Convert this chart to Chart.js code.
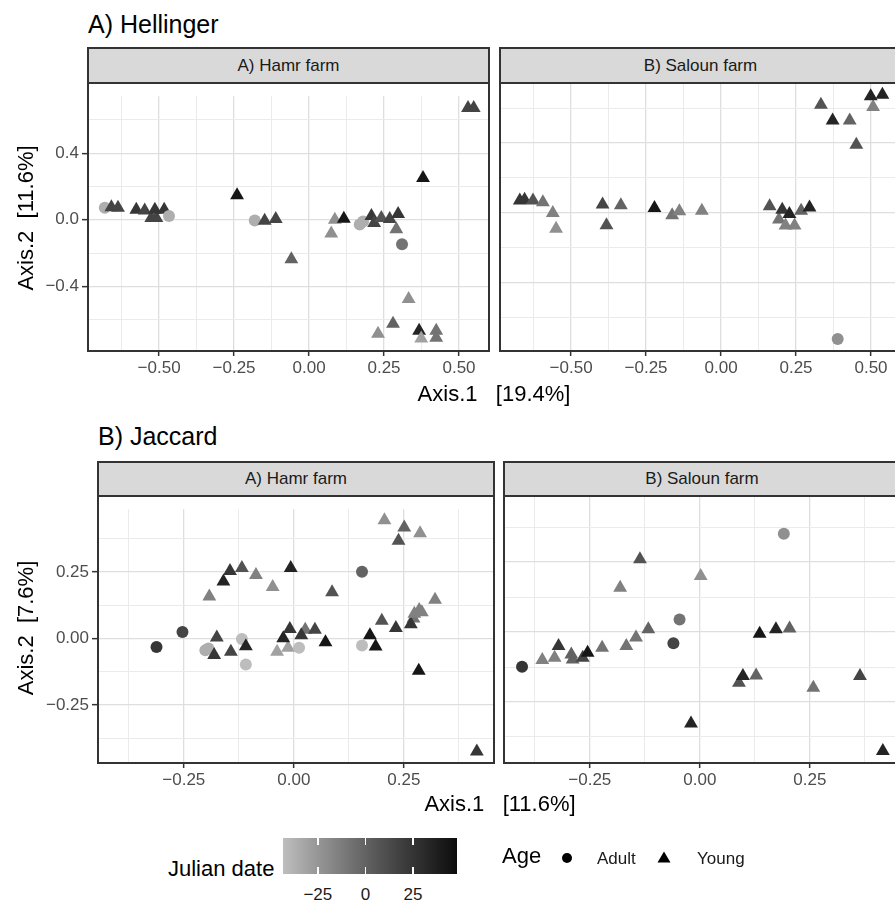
<!DOCTYPE html>
<html>
<head>
<meta charset="utf-8">
<script src="https://cdn.jsdelivr.net/npm/chart.js@4.4.1/dist/chart.umd.min.js"></script>
<style>
  body { margin: 0; background: #fff; overflow: hidden; }
  #page { position: relative; width: 895px; height: 902px; overflow: hidden; background: #fff;
          font-family: "Liberation Sans", Arial, sans-serif; color: #000; }
  #page canvas { position: absolute; }
  .txt { position: absolute; white-space: pre; }
  .strip { position: absolute; box-sizing: border-box; background: #d9d9d9; border: 2px solid #333;
           color: #1a1a1a; font-size: 17px; text-align: center; }
  .frame { position: absolute; box-sizing: border-box; border: 2px solid #333; pointer-events: none; }
</style>
</head>
<body>
<div id="page"></div>
<script>
// ---- data ----
// A) Hellinger, Hamr farm
const hellHamrX = [-0.681,-0.659,-0.637,-0.576,-0.548,-0.526,-0.509,-0.514,-0.483,-0.467,-0.240,-0.181,-0.148,-0.111,-0.059,0.074,0.086,0.116,0.169,0.180,0.208,0.217,0.241,0.269,0.297,0.291,0.310,0.380,0.530,0.549,0.332,0.280,0.230,0.367,0.374,0.424,0.424];
const hellHamrY = [0.072,0.076,0.072,0.060,0.056,0.010,0.010,0.060,0.060,0.023,0.147,-0.004,-0.006,0.004,-0.238,-0.082,0.000,0.006,-0.029,-0.010,0.023,-0.019,0.010,0.004,0.034,-0.057,-0.147,0.251,0.672,0.672,-0.476,-0.625,-0.686,-0.667,-0.714,-0.667,-0.709];
const hellHamrDate = [-36,16,16,24,16,16,16,24,24,-36,43,-36,16,16,0,-22,-22,43,-36,-36,24,16,8,16,24,-8,-8,43,16,16,-22,0,-22,34,-30,-8,-8];
const hellHamrAge = ['A','Y','Y','Y','Y','Y','Y','Y','Y','A','Y','A','Y','Y','Y','Y','Y','Y','A','A','Y','Y','Y','Y','Y','Y','A','Y','Y','Y','Y','Y','Y','Y','Y','Y','Y'];

// A) Hellinger, Saloun farm
const hellSalX = [-0.671,-0.655,-0.627,-0.594,-0.561,-0.550,-0.395,-0.334,-0.382,-0.222,-0.163,-0.139,-0.064,0.162,0.193,0.204,0.215,0.245,0.228,0.267,0.295,0.333,0.372,0.429,0.451,0.507,0.499,0.538,0.389];
const hellSalY = [0.072,0.076,0.072,0.061,0.000,-0.090,0.048,0.044,-0.070,0.029,-0.013,0.010,0.013,0.038,-0.038,0.019,-0.072,-0.072,-0.006,0.013,0.032,0.619,0.528,0.528,0.390,0.606,0.667,0.676,-0.720];
const hellSalDate = [24,24,8,-8,-15,-22,16,0,8,43,-8,-15,-15,8,-8,24,-15,-15,34,0,34,8,34,0,8,-15,34,34,-22];
const hellSalAge = ['Y','Y','Y','Y','Y','Y','Y','Y','Y','Y','Y','Y','Y','Y','Y','Y','Y','Y','Y','Y','Y','Y','Y','Y','Y','Y','Y','Y','A'];

// B) Jaccard, Hamr farm
const jacHamrX = [-0.312,-0.253,-0.201,-0.194,-0.175,-0.181,-0.143,-0.118,-0.109,-0.109,-0.192,-0.160,-0.145,-0.118,-0.086,-0.048,-0.007,0.087,0.155,-0.038,-0.013,0.012,-0.024,-0.009,0.026,0.017,0.048,0.072,0.155,0.173,0.186,0.200,0.232,0.272,0.266,0.274,0.285,0.291,0.321,0.284,0.416,0.206,0.251,0.287,0.238];
const jacHamrY = [-0.032,0.024,-0.044,-0.038,0.004,-0.062,-0.050,-0.002,-0.029,-0.098,0.158,0.214,0.254,0.265,0.239,0.194,0.265,0.174,0.251,-0.050,-0.035,-0.035,0.001,0.036,0.033,0.012,0.033,-0.014,-0.026,0.012,-0.030,0.067,0.039,0.075,0.054,0.093,0.107,0.099,0.146,-0.121,-0.425,0.444,0.417,0.396,0.367];
const jacHamrDate = [24,16,-36,-36,16,24,16,-43,34,-43,-15,34,24,8,-15,-22,34,8,0,-30,-30,-43,34,24,-8,24,16,43,-43,43,43,8,24,-8,24,-15,-15,-15,-15,43,24,-22,0,-22,8];
const jacHamrAge = ['A','A','A','A','Y','Y','Y','A','Y','A','Y','Y','Y','Y','Y','Y','Y','Y','A','Y','Y','A','Y','Y','Y','Y','Y','Y','A','Y','Y','Y','Y','Y','Y','Y','Y','Y','Y','Y','Y','Y','Y','Y','Y'];

// B) Jaccard, Saloun farm
const jacSalX = [-0.404,-0.358,-0.330,-0.321,-0.292,-0.289,-0.266,-0.255,-0.222,-0.167,-0.145,-0.117,-0.060,-0.046,-0.181,-0.136,0.002,0.191,0.136,0.173,0.204,0.089,0.098,0.128,0.258,0.364,-0.020,0.416];
const jacSalY = [-0.124,-0.100,-0.092,-0.050,-0.080,-0.098,-0.092,-0.074,-0.056,-0.050,-0.020,0.010,-0.040,0.045,0.158,0.260,0.200,0.351,-0.006,0.010,0.013,-0.181,-0.157,-0.155,-0.199,-0.157,-0.327,-0.425];
const jacSalDate = [24,-15,-15,24,0,0,16,43,-8,-8,-8,0,16,-8,-15,8,-22,-22,43,34,0,8,34,0,-8,16,34,34];
const jacSalAge = ['A','Y','Y','Y','Y','Y','Y','Y','Y','Y','Y','Y','A','A','Y','Y','Y','A','Y','Y','Y','Y','Y','Y','Y','Y','Y','Y'];

// axis limits and tick labels
const hellXLim = [-0.737, 0.6], hellYLim = [-0.789, 0.743];
const jacXLim = [-0.445, 0.455], jacYLim = [-0.468, 0.486];
const hellXTicks = [-0.5, -0.25, 0, 0.25, 0.5];
const hellYTicks = [-0.4, 0, 0.4];
const jacXTicks = [-0.25, 0, 0.25];
const jacYTicks = [-0.25, 0, 0.25];

// colour scale (Julian date)
const dateLimits = [-43.3, 48.1];
const dateTicks = [-25, 0, 25];
const ageLabels = ['Adult', 'Young'];

const FONT = '"Liberation Sans", Arial, sans-serif';
Chart.defaults.font.family = FONT;
const page = document.getElementById('page');

// light grey -> black, interpolated on lightness like ggplot does
function julianGrey(v) {
  let t = (v - dateLimits[0]) / (dateLimits[1] - dateLimits[0]);
  t = Math.max(0, Math.min(1, t));
  const L = 77 + (3 - 77) * t;
  const Y = L > 8 ? Math.pow((L + 16) / 116, 3) : L / 903.3;
  const s = Y <= 0.0031308 ? 12.92 * Y : 1.055 * Math.pow(Y, 1 / 2.4) - 0.055;
  const g = Math.round(255 * s);
  return 'rgb(' + g + ',' + g + ',' + g + ')';
}

function fmtTick(v, dec) {
  const s = Math.abs(v).toFixed(dec);
  return v < -1e-9 ? '\u2212' + s : s;
}

function addText(txt, x, baseline, size, extra) {
  const d = document.createElement('div');
  d.className = 'txt';
  d.textContent = txt;
  d.style.cssText = 'left:' + x + 'px;top:' + (baseline - 0.8465 * size) + 'px;font-size:' + size +
    'px;line-height:' + size + 'px;' + (extra || '');
  page.appendChild(d);
  return d;
}

function addVText(txt, cx, cy, size) {
  const d = document.createElement('div');
  d.className = 'txt';
  d.textContent = txt;
  d.style.cssText = 'left:' + cx + 'px;top:' + cy + 'px;font-size:' + size + 'px;line-height:' + size +
    'px;transform:translate(-50%,-50%) rotate(-90deg);';
  page.appendChild(d);
}

// major ticks get labels + tick marks, half steps are minor grid lines
function axisOpts(lim, majors, dec, showLabels, tickLen, pad, fitSize, horizontal) {
  const half = (majors[1] - majors[0]) / 2;
  const all = [];
  const k0 = Math.ceil((lim[0] - majors[0]) / half - 1e-9);
  const k1 = Math.floor((lim[1] - majors[0]) / half + 1e-9);
  for (let k = k0; k <= k1; k++) all.push(+(majors[0] + k * half).toFixed(6));
  const isMajor = v => majors.some(m => Math.abs(m - v) < 1e-6);
  const major = c => c.tick && isMajor(c.tick.value);
  return {
    type: 'linear', min: lim[0], max: lim[1],
    afterBuildTicks: s => { s.ticks = all.map(v => ({ value: v })); },
    afterFit: s => { if (horizontal) s.height = fitSize; else s.width = fitSize; },
    border: { display: false },
    grid: {
      color: c => major(c) ? '#dedede' : '#ebebeb',
      lineWidth: c => major(c) ? 1.3 : 1,
      drawTicks: showLabels, tickLength: tickLen, tickWidth: 1.5,
      tickColor: c => major(c) ? '#333' : 'rgba(0,0,0,0)'
    },
    ticks: {
      display: showLabels, autoSkip: false, maxRotation: 0, minRotation: 0, padding: pad,
      font: { family: FONT, size: 17 }, color: '#4d4d4d',
      callback: v => isMajor(v) ? fmtTick(v, dec) : ''
    }
  };
}

function addPanel(p) {
  const b = p.box;
  const plotW = b.r - b.l, plotH = b.b - b.t;
  const axisW = p.showY ? 70 : 0, axisH = 40;
  const cv = document.createElement('canvas');
  cv.width = plotW + axisW;
  cv.height = plotH + axisH;
  cv.style.left = (b.l - axisW) + 'px';
  cv.style.top = b.t + 'px';
  page.appendChild(cv);

  const rad = c => p.ages[c.dataIndex] === 'A' ? 6 : 8;
  new Chart(cv, {
    type: 'scatter',
    data: {
      datasets: [{
        data: p.xs.map((x, i) => ({ x: x, y: p.ys[i] })),
        pointStyle: c => p.ages[c.dataIndex] === 'A' ? 'circle' : 'triangle',
        pointRadius: rad,
        pointHoverRadius: rad,
        backgroundColor: c => julianGrey(p.dates[c.dataIndex]),
        borderWidth: 0
      }]
    },
    options: {
      responsive: false, animation: false, events: [],
      layout: { padding: 0, autoPadding: false },
      plugins: { legend: { display: false }, tooltip: { enabled: false } },
      scales: {
        x: axisOpts(p.xLim, p.xTicks, p.xDec, true, 5, 2, axisH, true),
        y: axisOpts(p.yLim, p.yTicks, p.yDec, p.showY, 6, 3, axisW, false)
      }
    }
  });

  const st = document.createElement('div');
  st.className = 'strip';
  const sh = b.t - b.stripTop + 2;
  st.style.cssText = 'left:' + (b.l - 1) + 'px;top:' + (b.stripTop - 1) + 'px;width:' + (plotW + 2) +
    'px;height:' + sh + 'px;line-height:' + (sh - 4) + 'px;';
  st.textContent = p.strip;
  page.appendChild(st);

  const fr = document.createElement('div');
  fr.className = 'frame';
  fr.style.cssText = 'left:' + (b.l - 1) + 'px;top:' + (b.t - 1) + 'px;width:' + (plotW + 2) +
    'px;height:' + (plotH + 2) + 'px;';
  page.appendChild(fr);
}

const panels = [
  { strip: 'A) Hamr farm', xs: hellHamrX, ys: hellHamrY, dates: hellHamrDate, ages: hellHamrAge,
    xLim: hellXLim, yLim: hellYLim, xTicks: hellXTicks, yTicks: hellYTicks, xDec: 2, yDec: 1,
    showY: true, box: { l: 88, t: 83, r: 489, b: 351, stripTop: 48 } },
  { strip: 'B) Saloun farm', xs: hellSalX, ys: hellSalY, dates: hellSalDate, ages: hellSalAge,
    xLim: hellXLim, yLim: hellYLim, xTicks: hellXTicks, yTicks: hellYTicks, xDec: 2, yDec: 1,
    showY: false, box: { l: 500, t: 83, r: 901, b: 351, stripTop: 48 } },
  { strip: 'A) Hamr farm', xs: jacHamrX, ys: jacHamrY, dates: jacHamrDate, ages: jacHamrAge,
    xLim: jacXLim, yLim: jacYLim, xTicks: jacXTicks, yTicks: jacYTicks, xDec: 2, yDec: 2,
    showY: true, box: { l: 98, t: 496, r: 494, b: 763, stripTop: 462 } },
  { strip: 'B) Saloun farm', xs: jacSalX, ys: jacSalY, dates: jacSalDate, ages: jacSalAge,
    xLim: jacXLim, yLim: jacYLim, xTicks: jacXTicks, yTicks: jacYTicks, xDec: 2, yDec: 2,
    showY: false, box: { l: 504, t: 496, r: 900, b: 763, stripTop: 462 } }
];
panels.forEach(addPanel);

// titles and axis titles
addText('A) Hellinger', 88, 33, 25);
addText('B) Jaccard', 98, 445, 25);
addText('Axis.1   [19.4%]', 494, 402, 22, 'transform:translateX(-50%);');
addText('Axis.1   [11.6%]', 500, 812, 22, 'transform:translateX(-50%);');
addVText('Axis.2  [11.6%]', 25.5, 218, 22);
addVText('Axis.2  [7.6%]', 25.5, 628, 22);

// colour bar legend
addText('Julian date', 168, 877, 22);
const bar = { l: 283, t: 838, w: 174, h: 36 };
const stops = [];
for (let i = 0; i <= 20; i++) {
  const v = dateLimits[0] + (dateLimits[1] - dateLimits[0]) * i / 20;
  stops.push(julianGrey(v) + ' ' + (i * 5) + '%');
}
const cb = document.createElement('div');
cb.style.cssText = 'position:absolute;left:' + bar.l + 'px;top:' + bar.t + 'px;width:' + bar.w + 'px;height:' +
  bar.h + 'px;background:linear-gradient(to right,' + stops.join(',') + ');';
page.appendChild(cb);
dateTicks.forEach(v => {
  const x = bar.w * (v - dateLimits[0]) / (dateLimits[1] - dateLimits[0]);
  [0, bar.h - 7].forEach(y => {
    const tk = document.createElement('div');
    tk.style.cssText = 'position:absolute;left:' + (x - 0.75) + 'px;top:' + y + 'px;width:1.5px;height:7px;background:#fff;';
    cb.appendChild(tk);
  });
  addText(fmtTick(v, 0), bar.l + x, 900, 17, 'transform:translateX(-50%);color:#1a1a1a;');
});

// shape legend
addText('Age', 502, 864, 22);
const svgNS = 'http://www.w3.org/2000/svg';
function addKey(shape, cx, cy) {
  const s = document.createElementNS(svgNS, 'svg');
  s.setAttribute('width', 16); s.setAttribute('height', 16);
  s.style.cssText = 'position:absolute;left:' + (cx - 8) + 'px;top:' + (cy - 8) + 'px;';
  const el = document.createElementNS(svgNS, shape === 'circle' ? 'circle' : 'polygon');
  if (shape === 'circle') { el.setAttribute('cx', 8); el.setAttribute('cy', 8); el.setAttribute('r', 5); }
  else el.setAttribute('points', '8,2.5 14.5,13.5 1.5,13.5');
  el.setAttribute('fill', '#000');
  s.appendChild(el);
  page.appendChild(s);
}
addKey('circle', 567, 858);
addText(ageLabels[0], 597, 864, 17, 'color:#1a1a1a;');
addKey('triangle', 664, 857);
addText(ageLabels[1], 697, 864, 17, 'color:#1a1a1a;');
</script>
</body>
</html>
